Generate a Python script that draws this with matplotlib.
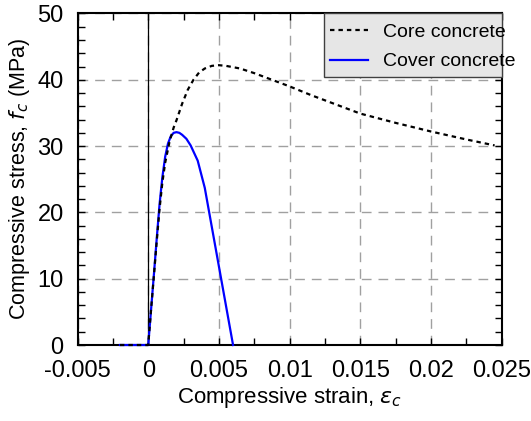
import matplotlib
matplotlib.use('Agg')
import matplotlib.pyplot as plt
from matplotlib.patches import Rectangle

plt.rcParams['font.family'] = ['Liberation Sans', 'DejaVu Sans']
plt.rcParams['mathtext.fontset'] = 'dejavusans'

# stress-strain data
core_strain = [-0.002, 0.0, 0.0002, 0.0004, 0.0006, 0.0008, 0.001, 0.0012, 0.0015,
               0.0018, 0.002, 0.0024, 0.0028, 0.0032, 0.0036, 0.004, 0.0045, 0.005,
               0.0055, 0.0065, 0.0075, 0.0085, 0.0095, 0.01, 0.0115, 0.013, 0.015,
               0.0175, 0.02, 0.0225, 0.0245]
core_stress = [0.0, 0.0, 5.3, 10.4, 15.6, 20.5, 24.5, 27.5, 30.6,
               32.8, 33.9, 36.4, 38.5, 40.0, 41.1, 41.7, 42.1, 42.2,
               42.1, 41.7, 41.0, 40.2, 39.4, 39.0, 37.7, 36.5, 34.9,
               33.5, 32.2, 31.0, 30.1]

cover_strain = [-0.002, 0.0, 0.0002, 0.0004, 0.0006, 0.0008, 0.001, 0.0012, 0.0014,
                0.0016, 0.0018, 0.002, 0.0022, 0.0024, 0.0027, 0.003, 0.0035, 0.004, 0.006]
cover_stress = [0.0, 0.0, 5.3, 10.6, 16.0, 21.2, 25.3, 28.4, 30.4,
                31.5, 32.0, 32.1, 32.0, 31.7, 31.1, 30.1, 27.8, 23.7, 0.0]

labels = ['Core concrete', 'Cover concrete']
xticks = [-0.005, 0, 0.005, 0.01, 0.015, 0.02, 0.025]
xticklabels = ['-0.005', '0', '0.005', '0.01', '0.015', '0.02', '0.025']
yticks = [0, 10, 20, 30, 40, 50]

fig, ax = plt.subplots(figsize=(5.31, 4.21), dpi=100)
fig.subplots_adjust(left=0.146, right=0.9448, top=0.968, bottom=0.1805)

ax.grid(True, which='major', color='#a0a0a0', linestyle=(0, (7, 5)), linewidth=1.0)
ax.axvline(0, color='black', linewidth=0.9, zorder=2.6)

ax.plot(core_strain, core_stress, color='black', linestyle=(0, (2, 1.8)),
        linewidth=1.6, label=labels[0], zorder=3.5, clip_on=False)
ax.plot(cover_strain, cover_stress, color='#0000ff', linewidth=1.6,
        label=labels[1], zorder=3, clip_on=False)

ax.set_xlim(-0.005, 0.025)
ax.set_ylim(0, 50)
ax.set_xticks(xticks)
ax.set_xticklabels(xticklabels)
ax.set_yticks(yticks)
ax.set_xticks([v * 0.0025 - 0.005 for v in range(13)], minor=True)
ax.set_yticks(list(range(0, 51, 2)), minor=True)
ax.tick_params(which='both', direction='in', top=True, right=True,
               length=5, width=1, labelsize=17)
ax.tick_params(axis='x', pad=11)
ax.tick_params(axis='y', pad=10)
for s in ax.spines.values():
    s.set_linewidth(1.5)

ax.set_xlabel(r'Compressive strain, $\varepsilon_c$', fontsize=16, labelpad=2)
ax.set_ylabel(r'Compressive stress, $f_c$ (MPa)', fontsize=15.5, labelpad=4)

# legend box (text spills past the frame in the original)
ax.add_patch(Rectangle((0.581, 0.8075), 0.419, 0.1925, transform=ax.transAxes,
                       facecolor='#e6e6e6', edgecolor='#404040', linewidth=1.0,
                       zorder=4, clip_on=False))
leg = ax.legend(loc='upper left', bbox_to_anchor=(0.573, 1.0), frameon=False,
                fontsize=14, handlelength=1.95, handletextpad=0.75,
                labelspacing=0.62, borderaxespad=0.2, borderpad=0.3)
leg.set_zorder(5)

fig.savefig('out.png', dpi=100)
